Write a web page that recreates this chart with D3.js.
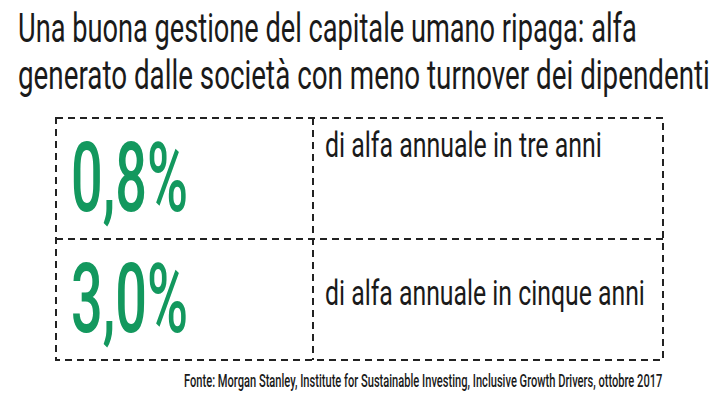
<!DOCTYPE html>
<html>
<head>
<meta charset="utf-8">
<script src="https://cdn.jsdelivr.net/npm/d3@7"></script>
<style>
  html, body { margin: 0; padding: 0; background: #fff; }
  svg { display: block; }
  text { font-family: Roboto, "Noto Sans", sans-serif; }
</style>
</head>
<body>
<svg id="chart" width="725" height="409"></svg>
<script>
// ---- data ----
const titleLines = [
  "Una buona gestione del capitale umano ripaga: alfa",
  "generato dalle società con meno turnover dei dipendenti"
];
const categories = ["tre anni", "cinque anni"];
const values = [0.8, 3.0];
const labels = ["di alfa annuale in tre anni", "di alfa annuale in cinque anni"];
const source = "Fonte: Morgan Stanley, Institute for Sustainable Investing, Inclusive Growth Drivers, ottobre 2017";

// ---- layout ----
const box = { x0: 56, x1: 663, y0: 118, y1: 360, split: 313 };
const green = "#13985e";
const ink = "#1a1a1a";

const svg = d3.select("#chart");
const it = d3.formatLocale({ decimal: ",", thousands: ".", grouping: [3], currency: ["€", ""] });
const fmt = v => it.format(".1f")(v) + "%";

// condensed text: draw at natural width, then squeeze horizontally to a target width
function condensed(sel, xf, yf, wf) {
  sel.attr("x", 0).attr("y", 0).each(function(d, i) {
    const nat = this.getComputedTextLength();
    const s = wf(d, i) / nat;
    d3.select(this).attr("transform", `translate(${xf(d, i)},${yf(d, i)}) scale(${s},1)`);
  });
}

// title
const titleWidths = [619, 692];
const titleBase = [42, 89];
svg.selectAll("text.title").data(titleLines).join("text")
  .attr("class", "title")
  .attr("font-size", 41)
  .attr("fill", ink)
  .text(d => d)
  .call(condensed, () => 18, (d, i) => titleBase[i], (d, i) => titleWidths[i]);

// rows
const y = d3.scaleBand().domain(d3.range(values.length)).range([box.y0, box.y1]);

const g = svg.append("g").attr("fill", "none").attr("stroke", "#222")
  .attr("stroke-width", 2).attr("stroke-dasharray", "7,5");
g.append("rect")
  .attr("x", box.x0).attr("y", box.y0)
  .attr("width", box.x1 - box.x0).attr("height", box.y1 - box.y0);
g.append("line").attr("x1", box.split).attr("x2", box.split)
  .attr("y1", box.y0).attr("y2", box.y1);
g.selectAll("line.h").data(d3.range(1, values.length)).join("line")
  .attr("class", "h")
  .attr("x1", box.x0).attr("x2", box.x1)
  .attr("y1", i => y(i)).attr("y2", i => y(i));

// big numbers
svg.selectAll("text.val").data(values).join("text")
  .attr("class", "val")
  .attr("font-size", 97)
  .attr("font-weight", 500)
  .attr("fill", green)
  .text(d => fmt(d))
  .call(condensed, () => 71, (d, i) => y(i) + 93, () => 117);

// labels
const labelOffset = [39, 66];
const labelWidth = [277, 320];
svg.selectAll("text.lab").data(labels).join("text")
  .attr("class", "lab")
  .attr("font-size", 36)
  .attr("fill", ink)
  .text(d => d)
  .call(condensed, () => 325, (d, i) => y(i) + labelOffset[i], (d, i) => labelWidth[i]);

// source
svg.append("text")
  .attr("font-size", 19)
  .attr("font-weight", 500)
  .attr("fill", ink)
  .text(source)
  .call(condensed, () => 184, () => 387, () => 479);
</script>
</body>
</html>
